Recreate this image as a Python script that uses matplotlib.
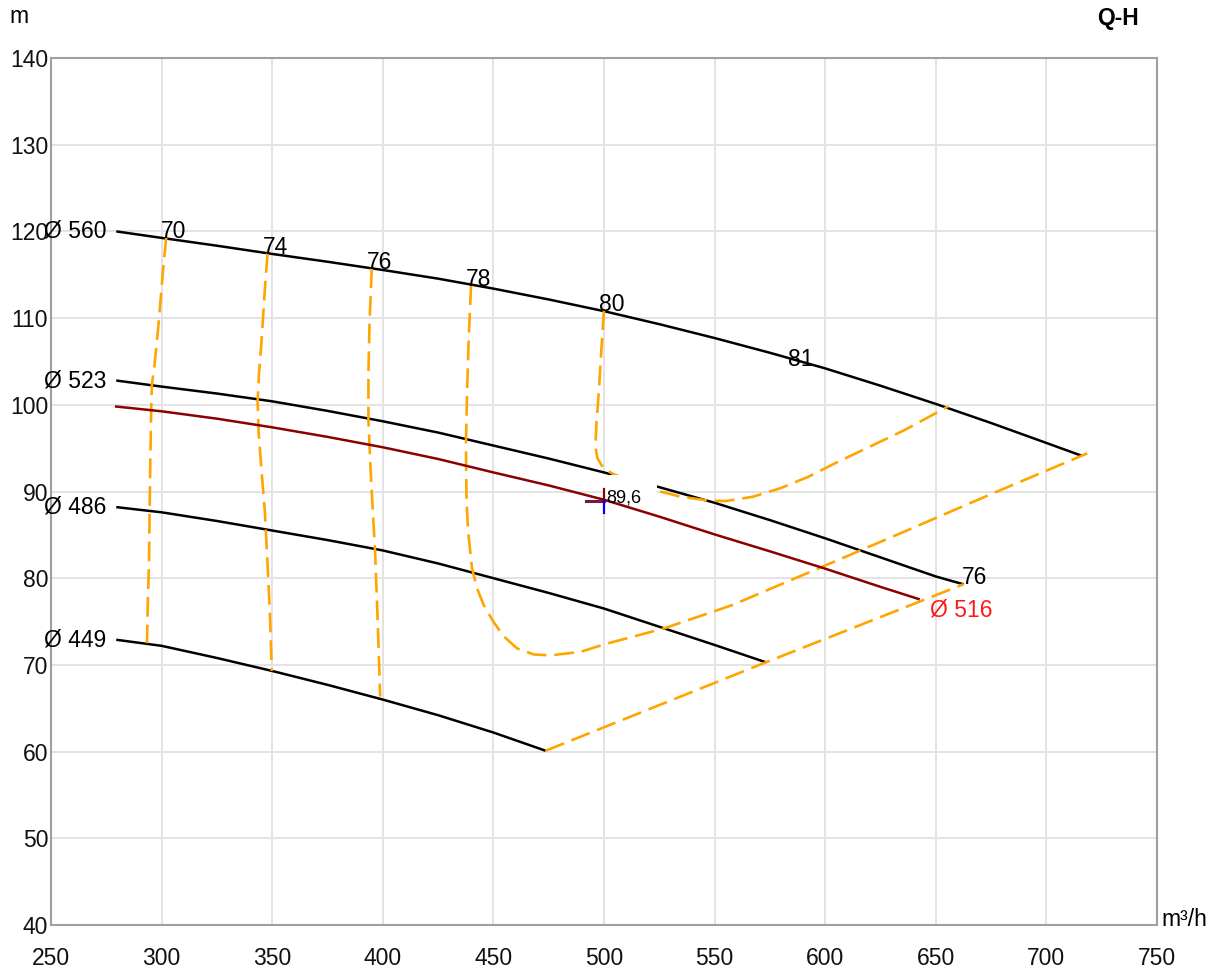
import matplotlib
matplotlib.use("Agg")
import matplotlib.pyplot as plt
from matplotlib import font_manager
from matplotlib.patches import Rectangle

# ---------------- data ----------------
q_560 = [279.5, 300, 325, 350, 375, 400, 425, 450, 475, 500, 525, 550, 575, 600, 625, 650, 675, 700, 716.2]
h_560 = [120.0, 119.25, 118.35, 117.4, 116.5, 115.55, 114.55, 113.4, 112.15, 110.8, 109.3, 107.7, 106.0, 104.2, 102.2, 100.1, 97.9, 95.6, 94.1]

q_523 = [279.5, 300, 325, 350, 375, 400, 425, 450, 475, 500, 525, 550, 575, 600, 625, 650, 662.5]
h_523 = [102.8, 102.1, 101.3, 100.4, 99.3, 98.1, 96.8, 95.3, 93.8, 92.2, 90.5, 88.7, 86.7, 84.6, 82.4, 80.2, 79.3]

q_516 = [279.5, 300, 325, 350, 375, 400, 425, 450, 475, 500, 525, 550, 575, 600, 625, 642.2]
h_516 = [99.8, 99.25, 98.4, 97.4, 96.3, 95.1, 93.75, 92.2, 90.7, 89.05, 87.1, 85.05, 83.1, 81.1, 79.0, 77.6]

q_486 = [279.5, 300, 325, 350, 375, 400, 425, 450, 475, 500, 525, 550, 573.2]
h_486 = [88.2, 87.6, 86.6, 85.5, 84.4, 83.2, 81.7, 80.0, 78.3, 76.5, 74.4, 72.3, 70.3]

q_449 = [279.5, 300, 325, 350, 375, 400, 425, 450, 473.6]
h_449 = [72.9, 72.2, 70.8, 69.3, 67.7, 66.0, 64.2, 62.2, 60.1]

diam_labels = ["Ø 560", "Ø 523", "Ø 486", "Ø 449"]

# efficiency contours (%)
e70_q = [302.1, 300.6, 298.8, 296.8, 295.6, 295.3, 294.9, 294.6, 294.3, 293.8, 293.4]
e70_h = [119.3, 115.4, 109.8, 104.6, 102.3, 99.5, 93.5, 88.0, 81.6, 77.7, 72.5]

e74_q = [347.9, 346.7, 345.2, 344.0, 343.4, 343.9, 345.2, 346.7, 347.9, 349.0, 349.8]
e74_h = [117.5, 113.4, 107.4, 103.5, 100.3, 96.7, 92.3, 87.6, 81.6, 75.7, 69.3]

e76_q = [395.0, 394.0, 393.5, 393.5, 394.3, 395.5, 396.5, 397.6, 398.8]
e76_h = [115.75, 109.4, 103.5, 98.3, 93.5, 87.6, 83.2, 75.7, 66.35]

e78_q = [439.9, 438.8, 438.1, 437.6, 437.8, 438.5, 440.3, 442.6, 445.6, 450.2, 454.7,
         460.7, 468.3, 475.8, 489.4, 500.5, 527.0, 558.0, 598.5, 636.0, 675.0, 718.5]
e78_h = [113.8, 107.4, 101.5, 95.5, 89.6, 85.6, 81.2, 78.85, 76.9, 74.9, 73.3,
         71.9, 71.2, 71.1, 71.5, 72.4, 74.2, 76.9, 81.3, 85.4, 89.7, 94.4]

e80_q = [500.0, 498.9, 497.7, 496.6, 496.1, 497.0, 499.7, 503.6, 512.0, 523.8, 534.7,
         547.2, 555.0, 567.4, 580.0, 592.4, 604.8, 620.4, 636.0, 655.5]
e80_h = [110.9, 106.7, 101.7, 97.9, 95.2, 93.85, 92.7, 92.1, 91.1, 90.1, 89.4,
         88.96, 88.9, 89.4, 90.4, 91.7, 93.3, 95.2, 97.1, 99.8]

# limit line through curve ends
lim_q = [473.6, 573.2, 662.5]
lim_h = [60.1, 70.3, 79.3]

eff_labels = ["70", "74", "76", "78", "80"]
label81_q, label81_h = 583.2, 104.5

op_q, op_h = 500, 88.95
op_text = "89,6"

x_ticks = [250, 300, 350, 400, 450, 500, 550, 600, 650, 700, 750]
y_ticks = [40, 50, 60, 70, 80, 90, 100, 110, 120, 130, 140]

# ---------------- style ----------------
names = {f.name for f in font_manager.fontManager.ttflist}
if "Liberation Sans Narrow" in names:
    FAM = ["Liberation Sans Narrow", "Liberation Sans", "DejaVu Sans"]
    FS = 19
    FS_SMALL = 15
else:
    FAM = ["Liberation Sans", "DejaVu Sans"]
    FS = 16.5
    FS_SMALL = 13
plt.rcParams["font.family"] = FAM

ORANGE = "#FFA500"
DARKRED = "#8B0000"

fig = plt.figure(figsize=(12.15, 9.76), dpi=100)
ax = fig.add_axes([51 / 1215, 51 / 976, 1106 / 1215, 867 / 976])

ax.set_xlim(250, 750)
ax.set_ylim(40, 140)
ax.set_xticks(x_ticks)
ax.set_yticks(y_ticks)
ax.grid(True, color="#e3e3e3", linewidth=1.4, zorder=0)
ax.tick_params(length=0, labelsize=FS, labelcolor="#111111")
ax.tick_params(axis="x", pad=16)
ax.tick_params(axis="y", pad=2)
for s in ax.spines.values():
    s.set_color("#a0a0a0")
    s.set_linewidth(1.5)

LW = 1.8
for q, h in [(q_560, h_560), (q_523, h_523), (q_486, h_486), (q_449, h_449)]:
    ax.plot(q, h, color="black", lw=LW, zorder=2, solid_capstyle="butt",
            solid_joinstyle="round")

dash = (7.5, 3.0)
for q, h in [(e70_q, e70_h), (e74_q, e74_h), (e76_q, e76_h), (e78_q, e78_h),
             (e80_q, e80_h), (lim_q, lim_h)]:
    ln, = ax.plot(q, h, color=ORANGE, lw=1.9, zorder=2)
    ln.set_dashes(dash)

# white box behind operating label
ax.add_patch(Rectangle((499.3, 88.2), 24.7, 3.7, facecolor="white",
                       edgecolor="none", zorder=3))

ax.plot(q_516, h_516, color=DARKRED, lw=LW, zorder=4, solid_joinstyle="round")

# operating point marker
ax.plot([491.7, 500], [op_h, op_h], color="#7a1740", lw=2.2, zorder=5)
ax.plot([500, 500], [op_h, op_h + 1.35], color=DARKRED, lw=1.6, zorder=5)
ax.plot([500, 500], [op_h, op_h - 1.4], color="blue", lw=1.6, zorder=5)
ax.text(501.1, 89.2, op_text, fontsize=FS_SMALL, ha="left", va="center",
        color="black", zorder=6)

# diameter labels at curve starts
for lab, q, h in zip(diam_labels, [q_560, q_523, q_486, q_449],
                     [h_560, h_523, h_486, h_449]):
    ax.annotate(lab, (q[0], h[0]), xytext=(-10, 0), textcoords="offset pixels",
                ha="right", va="center", fontsize=FS, color="black", zorder=6)

ax.annotate("Ø 516", (q_516[-1], h_516[-1]), xytext=(11, 1),
            textcoords="offset pixels", ha="left", va="top", fontsize=FS,
            color="#ff1a1a", zorder=6)

# efficiency labels at top of contours
for lab, q, h in zip(eff_labels, [e70_q, e74_q, e76_q, e78_q, e80_q],
                     [e70_h, e74_h, e76_h, e78_h, e80_h]):
    ax.annotate(lab, (q[0], h[0]), xytext=(-5, -1), textcoords="offset pixels",
                ha="left", va="baseline", fontsize=FS, color="black", zorder=6)
ax.text(label81_q, label81_h, "81", ha="left", va="baseline", fontsize=FS,
        color="black", zorder=6)
ax.annotate("76", (q_523[-1], h_523[-1]), xytext=(-2, 0),
            textcoords="offset pixels", ha="left", va="baseline", fontsize=FS,
            color="black", zorder=6)

# axis unit labels and title
fig.text(9 / 1215, 1 - 23 / 976, "m", ha="left", va="baseline", fontsize=FS)
fig.text(1161 / 1215, 1 - 926 / 976, "m³/h", ha="left", va="baseline", fontsize=FS)
fig.text(1118 / 1215, 1 - 19 / 976, "Q-H", ha="center", va="center",
         fontsize=FS, fontweight="bold")

fig.savefig("out.png", dpi=100)
